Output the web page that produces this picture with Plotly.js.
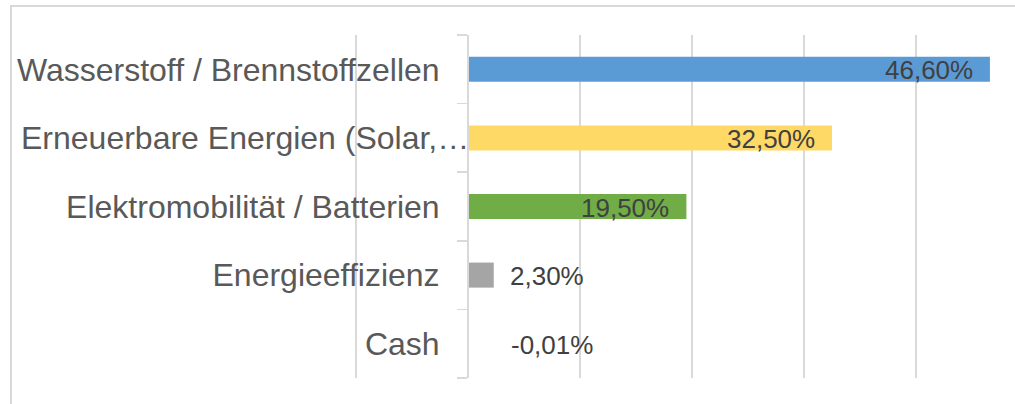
<!DOCTYPE html>
<html>
<head>
<meta charset="utf-8">
<script src="https://cdn.plot.ly/plotly-3.0.1.min.js"></script>
<style>
  html, body { margin: 0; padding: 0; background: #ffffff; }
  #chart { width: 1015px; height: 404px; }
</style>
</head>
<body>
<div id="chart"></div>
<script>
// ---- Data ----
const categories = [
  "Wasserstoff / Brennstoffzellen",
  "Erneuerbare Energien (Solar,…",
  "Elektromobilität / Batterien",
  "Energieeffizienz",
  "Cash"
];
const values = [46.6, 32.5, 19.5, 2.3, -0.01];
const barColors = ["#5B9BD5", "#FFD966", "#70AD47", "#A5A5A5", "#4472C4"];
const gridTicks = [-10, 0, 10, 20, 30, 40];

// ---- Geometry (pixels) ----
const W = 1015, H = 404;
const pxPerUnit = 11.2;
const mL = 353, mR = 0, mT = 35, mB = 26;
const plotW = W - mL - mR, plotH = H - mT - mB;
const axisPx = 467;
const axisPos = (axisPx - mL) / plotW;
const xMin = -10 - (356 - mL) / pxPerUnit;

const fmt = v => v.toFixed(2).replace('.', ',') + '%';

// Long labels that Excel truncated overflow towards the axis; draw them as annotations
const overflowIdx = categories.map((c, i) => c.endsWith('…') ? i : -1).filter(i => i >= 0);
const tickText = categories.map((c, i) => overflowIdx.includes(i) ? '' : c);

const trace = {
  type: 'bar',
  orientation: 'h',
  y: categories,
  x: values,
  marker: { color: barColors, line: { width: 0 } },
  hoverinfo: 'skip',
  showlegend: false
};

const labelFont = { family: 'Liberation Sans, Arial, sans-serif', size: 26, color: '#404040' };
const catFont = { family: 'Liberation Sans, Arial, sans-serif', size: 32, color: '#595959' };

const annotations = values.map((v, i) => {
  const inside = v >= 10;
  return {
    x: Math.max(v, 0), y: categories[i], xref: 'x', yref: 'y',
    text: fmt(v), showarrow: false,
    xanchor: inside ? 'right' : 'left',
    xshift: inside ? -15 : (v < 0 ? 41 : 14),
    yshift: -1,
    font: labelFont
  };
});
overflowIdx.forEach(i => {
  annotations.push({
    x: axisPos, xref: 'paper', y: categories[i], yref: 'y',
    text: categories[i], showarrow: false,
    xanchor: 'right', xshift: 4,
    font: catFont
  });
});

const layout = {
  width: W, height: H,
  margin: { l: mL, r: mR, t: mT, b: mB, pad: 0 },
  paper_bgcolor: '#ffffff', plot_bgcolor: '#ffffff',
  bargap: 0.635,
  font: { family: 'Liberation Sans, Arial, sans-serif' },
  xaxis: {
    range: [xMin, xMin + plotW / pxPerUnit],
    tickmode: 'array', tickvals: gridTicks,
    showticklabels: false, ticks: '',
    showgrid: true, gridcolor: '#d9d9d9', gridwidth: 1.5,
    zeroline: false, showline: false, fixedrange: true
  },
  yaxis: {
    type: 'category',
    autorange: 'reversed',
    anchor: 'free', position: axisPos,
    tickmode: 'array', tickvals: categories, ticktext: tickText,
    tickson: 'boundaries',
    ticks: 'outside', ticklen: 10, tickcolor: '#d9d9d9', tickwidth: 1.5,
    showline: true, linecolor: '#d9d9d9', linewidth: 1.5,
    showgrid: false, zeroline: false,
    tickfont: catFont,
    ticklabelstandoff: 21,
    automargin: false, fixedrange: true
  },
  shapes: [{
    type: 'rect', xref: 'paper', yref: 'paper',
    x0: (11 - mL) / plotW, x1: 1.2,
    y0: -0.3, y1: (H - mB - 6) / plotH,
    line: { color: '#d9d9d9', width: 2 },
    fillcolor: 'rgba(0,0,0,0)', layer: 'below'
  }],
  annotations: annotations
};

Plotly.newPlot('chart', [trace], layout, { displayModeBar: false, staticPlot: true });
</script>
</body>
</html>
